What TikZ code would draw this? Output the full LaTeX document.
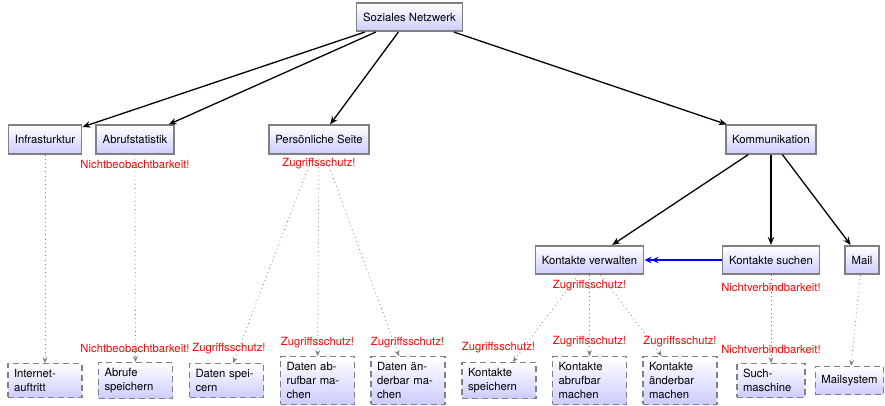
\documentclass[tikz,border=0pt]{standalone}
\usepackage{fontspec}
\setmainfont{TeX Gyre Heros}
\usetikzlibrary{arrows.meta}
\begin{document}
\begin{tikzpicture}[x=1pt,y=-1pt,
  font=\fontsize{11.3}{14}\selectfont,
  topbox/.style={draw=gray, line width=1.6pt, top color=white, bottom color=blue!20,
    minimum height=28.5pt, inner xsep=6.5pt},
  leafbox/.style={draw=gray, line width=1.2pt, dash pattern=on 6pt off 4pt,
    top color=white, bottom color=blue!20, inner xsep=6pt, inner ysep=5.5pt,
    align=left, text width=#1},
  leafbox/.default=62pt,
  mainarrow/.style={draw=black, line width=1.3pt, -{Stealth[length=8pt,width=6.5pt]}},
  bluearrow/.style={draw=blue, line width=1.3pt,
    -{Stealth[length=7pt,width=6.5pt]Stealth[length=7pt,width=6.5pt]}},
  dotedge/.style={draw=gray, line width=0.8pt, dash pattern=on 0.8pt off 3.4pt,
    -{Stealth[length=6pt,width=5pt,line width=0pt]}},
  lbl/.style={text=red, inner sep=0pt}
]
\useasboundingbox (0,0) rectangle (885,406);

% top level
\node[topbox] (sn) at (409.5,17) {Soziales Netzwerk};
\node[topbox] (infra) at (45,139.5) {Infrasturktur};
\node[topbox] (abruf) at (135,139.5) {Abrufstatistik};
\node[topbox] (ps) at (319,139.5) {Persönliche Seite};
\node[topbox] (komm) at (771,139.5) {Kommunikation};
\node[topbox] (kv) at (589.5,260) {Kontakte verwalten};
\node[topbox] (ks) at (771,260) {Kontakte suchen};
\node[topbox] (mail) at (862,260) {Mail};

% leaves
\node[leafbox] (ia) at (45,380.5) {Internet-\\auftritt};
\node[leafbox] (as) at (135.5,380.5) {Abrufe\\speichern};
\node[leafbox] (ds) at (226.5,380.5) {Daten spei-\\cern};
\node[leafbox] (da) at (317.5,380.5) {Daten ab-\\rufbar ma-\\chen};
\node[leafbox] (dae) at (408,380.5) {Daten än-\\derbar ma-\\chen};
\node[leafbox] (ksp) at (499,380.5) {Kontakte\\speichern};
\node[leafbox] (kab) at (589.5,380.5) {Kontakte\\abrufbar\\machen};
\node[leafbox] (kae) at (680,380.5) {Kontakte\\änderbar\\machen};
\node[leafbox=56pt] (such) at (771,380.5) {Such-\\maschine};
\node[leafbox, text width=, minimum height=28pt] (msys) at (849.5,380.5) {Mailsystem};

% main arrows
\draw[mainarrow] (sn) -- (infra);
\draw[mainarrow] (sn) -- (abruf);
\draw[mainarrow] (sn) -- (ps);
\draw[mainarrow] (sn) -- (komm);
\draw[mainarrow] (komm) -- (kv);
\draw[mainarrow] (komm) -- (ks);
\draw[mainarrow] (komm) -- (mail);
\draw[bluearrow] (ks) -- (kv);

% dotted refinements
\draw[dotedge] (infra) -- (ia);
\draw[dotedge] (abruf) -- (as);
\draw[dotedge] (ps) -- (ds);
\draw[dotedge] (ps) -- (da);
\draw[dotedge] (ps) -- (dae);
\draw[dotedge] (kv) -- (ksp);
\draw[dotedge] (kv) -- (kab);
\draw[dotedge] (kv) -- (kae);
\draw[dotedge] (ks) -- (such);
\draw[dotedge] (mail) -- (msys);

% labels near start
\node[lbl] (l1) at (135,164) {Nichtbeobachtbarkeit!};
\node[lbl] (l2) at (319,163.5) {Zugriffsschutz!};
\node[lbl] (l3) at (589.5,286) {Zugriffsschutz!};
\node[lbl] (l4) at (771,287) {Nichtverbindbarkeit!};

% labels near end
\node[lbl] (e1) at (135,348.5) {Nichtbeobachtbarkeit!};
\node[lbl] (e2) at (229,348.5) {Zugriffsschutz!};
\node[lbl] (e3) at (317.5,342.5) {Zugriffsschutz!};
\node[lbl] (e4) at (407.5,342.5) {Zugriffsschutz!};
\node[lbl] (e5) at (498.5,347.5) {Zugriffsschutz!};
\node[lbl] (e6) at (589.5,341.7) {Zugriffsschutz!};
\node[lbl] (e7) at (680,341.7) {Zugriffsschutz!};
\node[lbl] (e8) at (771,349.3) {Nichtverbindbarkeit!};
\end{tikzpicture}
\end{document}
